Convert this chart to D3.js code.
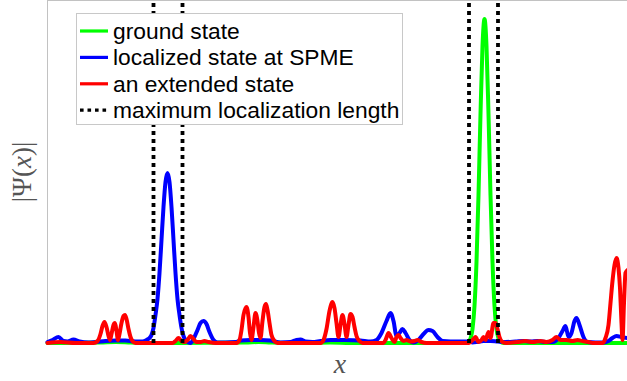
<!DOCTYPE html>
<html><head><meta charset="utf-8">
<script src="https://cdn.jsdelivr.net/npm/d3@7"></script>
<style>body{margin:0;background:#fff;}svg{display:block;}</style>
</head><body><svg id="c" width="627" height="381"></svg>
<script>
// x: lattice position (arbitrary units), value: |Psi(x)| (x1e-3, arbitrary units)
const groundState = [[0,0],[53,0.5],[68,1],[83,0.5],[103,0],[198,0.5],[211,1],[223,0.5],[243,0],[283,0.5],[303,0],[419,0],[421,1.3],[423,4.6],[425,14],[427,37],[429,81],[431,148],[433,229],[435,297],[437,324],[439,297],[441,229],[443,148],[445,81],[447,37],[449,14],[451,4.6],[453,1.3],[456,0],[580,0]];
const localizedState = [[0,1],[5,3],[11,6],[16,2],[20,1.5],[26,3.5],[32,1.5],[41,0.5],[48,1],[58,2],[68,2.5],[78,2.5],[88,1.5],[95,1.5],[99,3],[102,5],[104,8],[106,15],[108,28],[110,44],[112,70],[114,103],[116,136],[118,161],[120,170],[122,161],[124,136],[126,103],[128,70],[130,44],[132,28],[134,15],[136,7],[138,3],[141,0.5],[143,0],[146,4],[150,13],[153,20],[156,22],[159,19],[162,11],[166,3],[170,0.5],[178,0.5],[188,1],[193,2.5],[203,3],[213,3],[223,2.5],[233,0.5],[243,1],[249,3],[253,3.5],[258,1.5],[265,1],[273,2],[283,3],[298,3],[313,2.5],[323,1.5],[329,3],[334,10],[339,22],[343,30],[346,22],[349,7],[352,10],[355,14],[358,10],[362,3],[366,0.5],[371,3],[376,9],[381,13],[385,12],[390,6],[395,2],[403,1.5],[413,1.5],[421,1.5],[425,0.5],[430,1],[436,2],[443,2],[450,1.5],[458,1],[468,1.5],[476,2],[483,1.5],[490,2],[498,1],[505,1],[511,5],[515,12],[518,17],[521,6],[524,10],[527,22],[529,25],[532,18],[536,6],[540,1],[548,0.5],[556,0.5],[561,2],[565,5],[569,7],[574,6],[580,5]];
const extendedState = [[0,0],[13,1],[28,0],[46,0],[50,2],[53,9],[55,17],[57,21],[59,16],[61,7],[62.5,3],[64,9],[66,18],[67.5,20],[69,12],[70.5,3],[72,9],[74,20],[76,27],[77.5,28],[79,24],[81,14],[83,6],[85,2],[88,0],[125,0],[128,2],[131,5],[134,2],[137,1],[140,3],[143,7],[146,4],[149,1],[153,1],[157,2],[161,1],[168,0],[189,0],[192,3],[194,13],[196,28],[199,36],[201,26],[202.5,10],[204,3],[206,16],[208,30],[210,22],[211.5,10],[213,5],[215,22],[217,36],[218.5,39],[220,33],[222,20],[224,8],[227,2],[230,0],[273,0],[276,3],[279,14],[282,32],[285,41],[287,35],[289,20],[291,6],[293,18],[295,28],[297,19],[299,6],[301,18],[303,29],[305,26],[307,16],[309,7],[312,2],[315,0],[336,0],[338,3],[341,10],[344,5],[347,1],[349,6],[351,8],[353,5],[356,2],[359,3],[363,1.5],[367,2],[370,3],[374,1],[379,0],[421,0],[423,1],[426,4],[428,6],[431,1],[434,3],[436,6],[438,3],[441,11],[443,5],[446,20],[448,20],[450,14],[452,6],[455,1],[459,0],[471,1],[478,2],[485,1],[493,2],[499,1],[505,3],[509,6],[513,3],[519,3],[525,2],[530,3],[535,2],[541,1],[545,0],[555,0],[558,5],[561,18],[563,40],[565,62],[567,78],[569,85],[571,75],[572.5,55],[574,20],[575,3],[576.5,40],[578,70],[580,73]];
const maxLocBounds = [106, 135, 421.5, 450.5];
const xDomain = [0, 580];
const yDomain = [0, 342];
const legendLabels = ["ground state", "localized state at SPME", "an extended state", "maximum localization length"];
const legendColors = ["#00ff00", "#0000ff", "#ff0000", "#000000"];

const svg = d3.select("#c");
const L = 47.5, R = 627.5, T = 0.5, B = 343;
const x = d3.scaleLinear().domain(xDomain).range([L, R]);
const y = d3.scaleLinear().domain(yDomain).range([B, T + 0.5]);

// axes box (left + top)
svg.append("line").attr("x1", L).attr("x2", L).attr("y1", 0).attr("y2", B + 2).attr("stroke", "#c2c2c2").attr("stroke-width", 1);
svg.append("line").attr("x1", L).attr("x2", 627).attr("y1", T).attr("y2", T).attr("stroke", "#c2c2c2").attr("stroke-width", 1);

const line = d3.line().x(d => x(d[0])).y(d => y(d[1])).curve(d3.curveMonotoneX);
const series = [groundState, localizedState, extendedState];
series.forEach((s, i) => {
  svg.append("path").datum(s).attr("d", line).attr("fill", "none")
    .attr("stroke", legendColors[i]).attr("stroke-width", 4)
    .attr("stroke-linejoin", "round").attr("stroke-linecap", "round");
});

// dotted vertical lines
maxLocBounds.forEach(b => {
  svg.append("line").attr("x1", x(b)).attr("x2", x(b))
    .attr("y1", y(0)).attr("y2", 0)
    .attr("stroke", "#000").attr("stroke-width", 3.8).attr("stroke-dasharray", "4,4");
});

// legend
const lg = svg.append("g");
lg.append("rect").attr("x", 76.5).attr("y", 13.5).attr("width", 326).attr("height", 111)
  .attr("fill", "#fff").attr("stroke", "#c8c8c8").attr("stroke-width", 1);
legendLabels.forEach((lab, i) => {
  const yy = 31 + i * 26.4;
  const ln = lg.append("line").attr("x1", 80).attr("x2", 108).attr("y1", yy).attr("y2", yy)
    .attr("stroke", legendColors[i]).attr("stroke-width", 3.2);
  if (i === 3) ln.attr("stroke-dasharray", "3.6,3.9").attr("x1", 80);
  lg.append("text").attr("x", 113).attr("y", yy + 8).text(lab)
    .attr("font-family", "Liberation Sans, Arial, sans-serif").attr("font-size", 22.8).attr("fill", "#000");
});

// axis labels
const yl = svg.append("text").attr("transform", "translate(31,172) rotate(-90)")
  .attr("text-anchor", "middle").attr("font-family", "Liberation Serif, DejaVu Serif, serif")
  .attr("font-size", 27).attr("fill", "#555");
yl.append("tspan").text("|Ψ(");
yl.append("tspan").attr("font-style", "italic").text("x");
yl.append("tspan").text(")|");

svg.append("text").attr("x", 340).attr("y", 373).attr("text-anchor", "middle")
  .attr("font-family", "Liberation Serif, DejaVu Serif, serif").attr("font-style", "italic")
  .attr("font-size", 28).attr("fill", "#555").text("x");
</script></body></html>
